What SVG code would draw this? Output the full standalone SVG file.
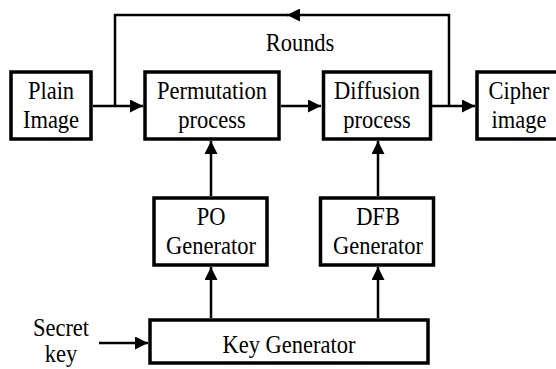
<svg xmlns="http://www.w3.org/2000/svg" width="556" height="369" viewBox="0 0 556 369">
  <defs>
    <style>
      .box { fill: #ffffff; stroke: #000000; stroke-width: 3.5; }
      .wire { fill: none; stroke: #000000; stroke-width: 2.5; }
      .lbl { font-family: "Liberation Serif", "Times New Roman", serif; font-size: 25px; fill: #000000; text-anchor: middle; }
    </style>
    <marker id="arrow" markerUnits="userSpaceOnUse" markerWidth="13" markerHeight="13" refX="13" refY="6.5" orient="auto">
      <path d="M0,0 L13,6.5 L0,13 z" fill="#000000"/>
    </marker>
  </defs>
  <rect width="556" height="369" fill="#ffffff"/>

  <g id="connectors">
    <path class="wire" d="M93,106 H143" marker-end="url(#arrow)"/>
    <path class="wire" d="M281,106 H321" marker-end="url(#arrow)"/>
    <path class="wire" d="M432,106 H475" marker-end="url(#arrow)"/>
    <path class="wire" d="M449,106 V15 H287" marker-end="url(#arrow)"/>
    <path class="wire" d="M288,15 H115 V106"/>
    <path class="wire" d="M211,196 V141" marker-end="url(#arrow)"/>
    <path class="wire" d="M211,318 V267" marker-end="url(#arrow)"/>
    <path class="wire" d="M378,196 V141" marker-end="url(#arrow)"/>
    <path class="wire" d="M378,318 V267" marker-end="url(#arrow)"/>
    <path class="wire" d="M99,343 H148" marker-end="url(#arrow)"/>
    <text class="lbl" transform="translate(300,51) scale(0.9,1)">Rounds</text>
  </g>

  <g id="plain-image">
    <rect class="box" x="11" y="72" width="80" height="67"/>
    <text class="lbl" transform="translate(51,99) scale(0.9,1)">Plain</text>
    <text class="lbl" transform="translate(51,128) scale(0.9,1)">Image</text>
  </g>

  <g id="permutation">
    <rect class="box" x="145" y="72" width="134" height="67"/>
    <text class="lbl" transform="translate(212,99) scale(0.9,1)">Permutation</text>
    <text class="lbl" transform="translate(212,128) scale(0.9,1)">process</text>
  </g>

  <g id="diffusion">
    <rect class="box" x="323.5" y="72" width="107" height="67"/>
    <text class="lbl" transform="translate(377,99) scale(0.9,1)">Diffusion</text>
    <text class="lbl" transform="translate(377,128) scale(0.9,1)">process</text>
  </g>

  <g id="cipher-image">
    <rect class="box" x="477" y="72" width="84" height="67"/>
    <text class="lbl" transform="translate(519,99) scale(0.9,1)">Cipher</text>
    <text class="lbl" transform="translate(519,128) scale(0.9,1)">image</text>
  </g>

  <g id="po-generator">
    <rect class="box" x="154" y="198" width="113" height="67"/>
    <text class="lbl" transform="translate(211,225) scale(0.9,1)">PO</text>
    <text class="lbl" transform="translate(211,254) scale(0.9,1)">Generator</text>
  </g>

  <g id="dfb-generator">
    <rect class="box" x="320.5" y="198" width="113" height="67"/>
    <text class="lbl" transform="translate(378,225) scale(0.9,1)">DFB</text>
    <text class="lbl" transform="translate(378,254) scale(0.9,1)">Generator</text>
  </g>

  <g id="key-generator">
    <rect class="box" x="150" y="320" width="278" height="43"/>
    <text class="lbl" transform="translate(289,353) scale(0.9,1)">Key Generator</text>
  </g>

  <g id="secret-key">
    <text class="lbl" transform="translate(61,336) scale(0.9,1)">Secret</text>
    <text class="lbl" transform="translate(61,362) scale(0.9,1)">key</text>
  </g>
</svg>
